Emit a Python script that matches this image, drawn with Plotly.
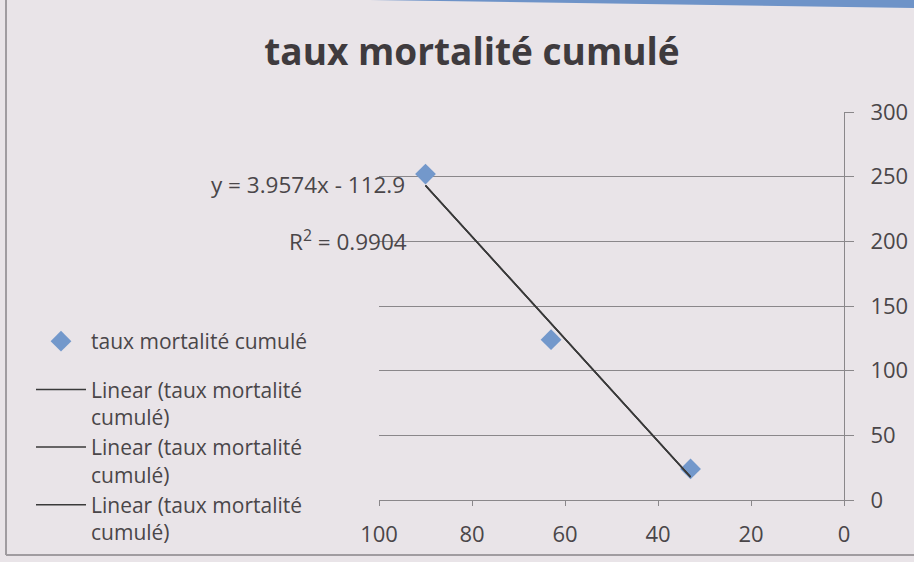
import numpy as np
import plotly.graph_objects as go

# Observed cumulative mortality
x_vals = [90, 63, 33]
y_vals = [252, 124, 24]

# Linear trendline as reported on the chart
slope = 3.9574
intercept = -112.9
r_squared = 0.9904

series_name = "taux mortalité cumulé"
trend_names = ["Linear (taux mortalité<br>cumulé)"] * 3

x_ticks = [100, 80, 60, 40, 20, 0]
y_ticks = [0, 50, 100, 150, 200, 250, 300]

BG = "#E9E4E8"
TEXT = "#4A4649"
GRID = "#8A878A"
FONT = "Open Sans"

fig = go.Figure()

fig.add_trace(go.Scatter(
    x=x_vals, y=y_vals, mode="markers", name=series_name,
    legendgroup="points",
    marker=dict(symbol="diamond", size=16, color="#7398CB",
                line=dict(width=0)),
))

tx = np.array([min(x_vals), max(x_vals)], dtype=float)
ty = slope * tx + intercept
for nm in trend_names:
    fig.add_trace(go.Scatter(
        x=tx, y=ty, mode="lines", name=nm, legendgroup="trend",
        line=dict(color="#3A3A3A", width=1.5),
    ))

# plot-area pixel geometry helpers for decorations outside the axes
L, R, T, B = 379, 844, 112, 500
W, H = R - L, B - T


def px_x(p):
    return (p - L) / W


def px_y(p):
    return (B - p) / H


shapes = [
    # blue strip along the top edge
    dict(type="path", xref="paper", yref="paper",
         path=f"M {px_x(370)},{px_y(-2)} L {px_x(914)},{px_y(-2)} "
              f"L {px_x(914)},{px_y(8)} L {px_x(370)},{px_y(0)} Z",
         fillcolor="#6E93C8", line=dict(width=0), layer="above"),
    # chart frame: left and bottom edges
    dict(type="line", xref="paper", yref="paper",
         x0=px_x(6), x1=px_x(6), y0=px_y(0), y1=px_y(555),
         line=dict(color="#A09CA0", width=2)),
    dict(type="line", xref="paper", yref="paper",
         x0=px_x(6), x1=px_x(914), y0=px_y(555), y1=px_y(555),
         line=dict(color="#A09CA0", width=2)),
]

annotations = [
    dict(text=f"y = {slope}x - {abs(intercept)}", xref="paper", yref="paper",
         x=px_x(407), y=px_y(184), xanchor="right", yanchor="middle",
         showarrow=False, font=dict(family=FONT, size=22.5, color=TEXT)),
    dict(text=f"R<sup>2</sup> = {r_squared}", xref="paper", yref="paper",
         x=px_x(409), y=px_y(240), xanchor="right", yanchor="middle",
         showarrow=False, font=dict(family=FONT, size=22.5, color=TEXT)),
]

fig.update_layout(
    width=914, height=562,
    margin=dict(l=L, r=914 - R, t=T, b=562 - B, pad=0, autoexpand=False),
    paper_bgcolor=BG, plot_bgcolor=BG,
    font=dict(family=FONT, color=TEXT, size=22),
    title=dict(text="<b>taux mortalité cumulé</b>", x=472 / 914, xanchor="center",
               y=1 - 52 / 562, yanchor="middle", xref="container", yref="container",
               font=dict(family=FONT, size=37, color="#3F3B3E")),
    showlegend=True,
    legend=dict(x=px_x(31), y=px_y(321), xanchor="left", yanchor="top",
                bgcolor="rgba(0,0,0,0)", font=dict(family=FONT, size=21, color=TEXT),
                itemwidth=50, tracegroupgap=18, valign="top"),
    shapes=shapes,
    annotations=annotations,
)

fig.update_xaxes(
    range=[100, 0], tickvals=x_ticks, showgrid=False, zeroline=False,
    showline=True, linecolor=GRID, linewidth=1,
    ticks="outside", ticklen=5, tickcolor=GRID,
    ticklabelstandoff=10, tickfont=dict(family=FONT, size=22, color=TEXT),
)
fig.update_yaxes(
    range=[0, 300], tickvals=y_ticks, side="right",
    showgrid=True, gridcolor=GRID, gridwidth=1, zeroline=False,
    showline=True, linecolor=GRID, linewidth=1,
    ticks="outside", ticklen=9, tickcolor=GRID,
    ticklabelstandoff=12, tickfont=dict(family=FONT, size=22, color=TEXT),
)

fig.write_html("out.html")
